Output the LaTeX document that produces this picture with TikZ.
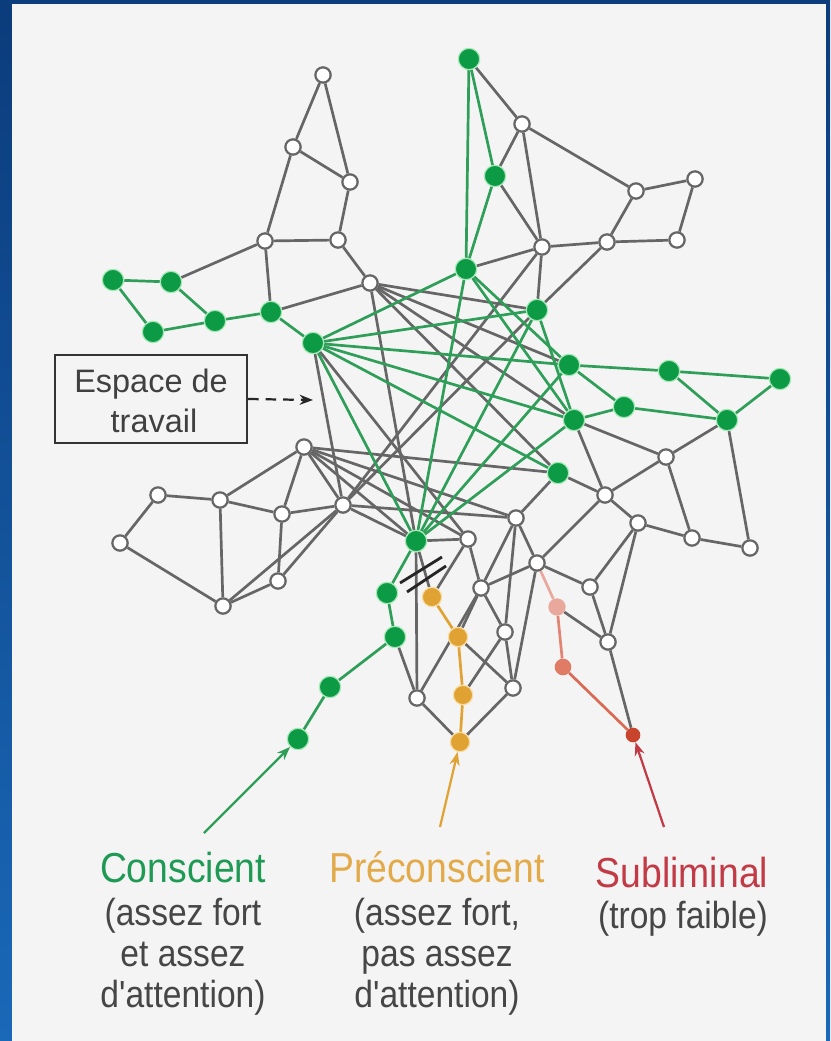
\documentclass[tikz,border=0pt]{standalone}
\usepackage{fontspec}
\setmainfont{Liberation Sans}
\newfontfamily\narrowfont[FakeStretch=0.89]{Liberation Sans}
\usepackage{tikz}
\usetikzlibrary{arrows.meta, positioning}
\pgfdeclarelayer{bg}
\pgfdeclarelayer{edges}
\pgfsetlayers{bg,edges,main}

\definecolor{panel}{HTML}{F4F4F4}
\definecolor{frametop}{HTML}{0B3C7C}
\definecolor{framebot}{HTML}{1A68B8}
\definecolor{edgegray}{HTML}{666666}
\definecolor{linkgreen}{HTML}{2E9E58}
\definecolor{nodegreen}{HTML}{0C9A44}
\definecolor{halogreen}{HTML}{A6E8B8}
\definecolor{nodeorange}{HTML}{E0A232}
\definecolor{haloorange}{HTML}{F6DEA6}
\definecolor{nodepink}{HTML}{E9A89C}
\definecolor{nodesalmon}{HTML}{E07B66}
\definecolor{nodered}{HTML}{C8442C}
\definecolor{titlegreen}{HTML}{1F9A55}
\definecolor{titleorange}{HTML}{E3AA4A}
\definecolor{titlered}{HTML}{C23A45}
\definecolor{desctext}{HTML}{464646}

\tikzset{wnode/.style = {circle, draw=edgegray, fill=white, line width=1.9pt, minimum size=0.46cm, inner sep=0pt}}
\tikzset{gnode/.style = {circle, draw=halogreen, fill=nodegreen, line width=1pt, minimum size=0.64cm, inner sep=0pt}}
\tikzset{onode/.style = {circle, draw=haloorange, fill=nodeorange, line width=1pt, minimum size=0.58cm, inner sep=0pt}}
\tikzset{link/.style = {draw=edgegray, line width=2.3pt}}
\tikzset{glink/.style = {draw=linkgreen, line width=2.3pt}}
\tikzset{pointer/.style = {-{Stealth[length=4mm, width=3mm]}, line width=1.9pt}}
\tikzset{title/.style = {anchor=base, inner sep=0pt, font=\narrowfont\fontsize{35.8}{41}\selectfont}}
\tikzset{desc/.style = {anchor=base, inner sep=0pt, align=center, text=desctext,
  font=\narrowfont\fontsize{32.2}{35}\selectfont}}

\begin{document}
\begin{tikzpicture}[x=0.03cm, y=-0.03cm]

	% frame and panel
	\begin{pgfonlayer}{bg}
	\useasboundingbox (0,0) rectangle (830,1041);
	\fill[top color=frametop, bottom color=framebot] (0,0) rectangle (830,1041);
	\fill[panel] (12,4) rectangle (826,1041);
	\end{pgfonlayer}

	% white nodes
	\foreach \n/\x/\y in {w1/323/75, w2/293/147, w3/350/182, w4/265/241, w5/338/240, w6/370/283,
	  w7/522/124, w8/636/191, w9/695/179, w10/542/247, w11/607/242, w12/677/240,
	  w13/666/457, w14/605/495, w15/638/523, w16/692/538, w17/750/548,
	  w18/516/518, w19/468/539, w20/537/563, w21/590/587, w22/481/588, w23/505/632, w24/608/642,
	  w25/304/447, w26/158/495, w27/220/500, w28/282/514, w29/120/543, w30/223/606, w31/278/581,
	  w32/343/505, w33/417/698, w34/513/688}
	  \node[wnode] (\n) at (\x,\y) {};

	% green nodes
	\foreach \n/\x/\y in {g1/113/280, g2/171/282, g3/153/332, g4/215/321, g5/271/312, g6/313/343,
	  g7/469/59, g8/495/176, g9/466/269, g10/537/310, g11/569/365, g12/669/371, g13/780/379,
	  g14/624/407, g15/574/420, g16/727/420, g17/558/473, g18/416/541,
	  g19/387/593, g20/395/637, g21/330/687, g22/298/739}
	  \node[gnode] (\n) at (\x,\y) {};

	% preconscious and subliminal nodes
	\foreach \n/\x/\y in {o1/432/597, o2/458/637, o3/463/695, o4/460/742}
	  \node[onode] (\n) at (\x,\y) {};
	\node[circle, fill=nodepink, minimum size=0.52cm, inner sep=0pt] (p1) at (557,607) {};
	\node[circle, fill=nodesalmon, minimum size=0.5cm, inner sep=0pt] (p2) at (563,667) {};
	\node[circle, fill=nodered, minimum size=0.44cm, inner sep=0pt] (r1) at (633,735) {};

	\begin{pgfonlayer}{edges}
	% gray links
	\foreach \a/\b in {w1/w2, w1/w3, w2/w3, w2/w4, w3/w5, w4/w5, w4/g5, w4/g2, w5/w6, g5/w6,
	  g7/w7, w7/g8, w7/w10, w7/w8, g8/w10, w8/w9, w9/w12, w8/w11, w11/g10, w10/w11, w11/w12,
	  g9/w10, w10/g10,
	  g15/w13, g16/w13, w13/w14, w13/w16, g15/w14, g17/w14, w14/w15, w15/w16, w16/w17, g16/w17,
	  w14/w20, w15/w21, w15/w24, w18/w20, w20/w21, w21/w24, p1/w24, w24/r1,
	  w18/w22, w18/w23, w19/w22, g18/w19, w22/w23, w20/w22,
	  w26/w29, w26/w27, w29/w30, w27/w25, w27/w28, w27/w30, w25/w28, w25/w32, w28/w32,
	  w28/w31, w30/w31, w30/w32, w31/w32, g6/w32,
	  g20/w33, w33/w22, w33/o4, o4/w34, w34/w20, o2/w34, w23/w34, o3/w23, o1/w19, o2/w22,
	  g18/o1, g18/w33,
	  w6/g10, w6/g11, w6/g15, w6/g18, w6/g17, w25/g17, w32/w18, w32/g10, w10/w32,
	  w25/g18, w19/w25, w18/g17, w32/g18, g6/w19, w25/w18}
	  \draw[link] (\a) -- (\b);
	% green links
	\foreach \a/\b in {g1/g2, g1/g3, g2/g4, g3/g4, g4/g5, g5/g6,
	  g7/g8, g7/g9, g8/g9,
	  g11/g12, g12/g13, g11/g14, g14/g15, g14/g16, g12/g16, g16/g13,
	  g6/g9, g6/g10, g6/g11, g6/g15, g6/g18, g6/g17,
	  g9/g11, g9/g15, g9/g18, g10/g18, g11/g18, g15/g18, g10/g15,
	  g18/g19, g19/g20, g20/g21, g21/g22}
	  \draw[glink] (\a) -- (\b);
	% orange and red paths
	\draw[draw=nodeorange, line width=2.3pt] (o1) -- (o2) -- (o3) -- (o4);
	\draw[draw=nodepink, line width=2.3pt] (w20) -- (p1);
	\draw[draw=nodesalmon!80!nodepink, line width=2.3pt] (p1) -- (p2);
	\draw[draw=nodesalmon!70!nodered, line width=2.3pt] (p2) -- (r1);
	\end{pgfonlayer}

	% blocked link
	\draw[line width=2.4pt, black!85] (400,583) -- (442,557);
	\draw[line width=2.4pt, black!85] (407,592) -- (446,566);

	% workspace label
	\node[draw=black!80, line width=1.8pt, fill=panel, minimum width=5.76cm, minimum height=2.64cm,
	  inner sep=0pt] (espace) at (151,399) {};
	\node[anchor=base, text=black!75, font=\fontsize{27.7}{34}\selectfont] (espacetxt) at (151,392) {Espace de};
	\node[anchor=base, text=black!75, font=\fontsize{27.7}{34}\selectfont] (travailtxt) at (154,432) {travail};
	\coordinate (espacetip) at (313,400);
	\draw[pointer, dash pattern=on 9pt off 6pt, line width=1.9pt, black!85] (espace.east) -- (espacetip);

	% labels
	\node[title, text=titlegreen] (consc) at (183,882) {Conscient};
	\node[desc] (conscdesc) at (183,1007) {(assez fort\\et assez\\d'attention)};
	\node[title, text=titleorange] (precons) at (437,882) {Préconscient};
	\node[desc] (preconsdesc) at (437,1007) {(assez fort,\\pas assez\\d'attention)};
	\node[title, text=titlered] (sublim) at (682,887) {Subliminal};
	\node[desc] (sublimdesc) at (683,928) {(trop faible)};

	% arrows to the chains
	\coordinate (consctail) at (204,833);
	\coordinate (precontail) at (440,827);
	\coordinate (sublimtail) at (664,827);
	\draw[pointer, linkgreen] (consctail) -- (g22);
	\draw[pointer, nodeorange] (precontail) -- (o4);
	\draw[pointer, titlered] (sublimtail) -- (r1);

\end{tikzpicture}
\end{document}
